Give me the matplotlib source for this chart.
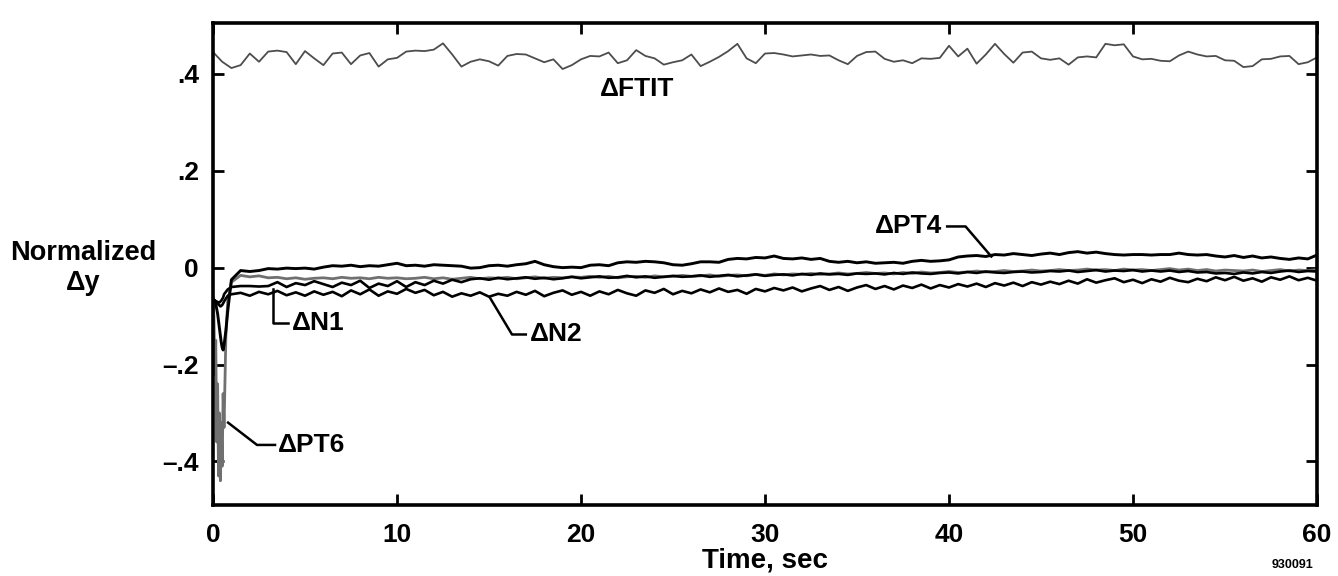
import numpy as np
import matplotlib
matplotlib.use("Agg")
import matplotlib.pyplot as plt

plt.rcParams['font.family'] = ['Liberation Sans', 'DejaVu Sans']
plt.rcParams['font.weight'] = 'bold'

# time bases
t_ftit = np.arange(0.0, 60.01, 0.5)
t_start = [0.0, 0.05, 0.1, 0.15, 0.2, 0.25, 0.3, 0.35, 0.4, 0.45, 0.5, 0.55, 0.6, 0.7, 0.8]
t_main = np.arange(1.0, 60.01, 0.5)

# FTIT, one value every 0.5 s
ftit = [
    0.445, 0.425, 0.412, 0.418, 0.442, 0.425, 0.446, 0.448, 0.445, 0.420,
    0.447, 0.432, 0.418, 0.442, 0.444, 0.420, 0.438, 0.443, 0.415, 0.430,
    0.433, 0.446, 0.448, 0.447, 0.450, 0.463, 0.440, 0.415, 0.425, 0.430,
    0.426, 0.417, 0.437, 0.441, 0.440, 0.432, 0.424, 0.430, 0.410, 0.418,
    0.430, 0.437, 0.436, 0.444, 0.422, 0.428, 0.449, 0.437, 0.432, 0.419,
    0.424, 0.428, 0.440, 0.416, 0.425, 0.435, 0.447, 0.462, 0.432, 0.422,
    0.442, 0.443, 0.440, 0.436, 0.438, 0.440, 0.437, 0.438, 0.428, 0.420,
    0.437, 0.445, 0.446, 0.431, 0.425, 0.428, 0.422, 0.432, 0.431, 0.433,
    0.458, 0.436, 0.452, 0.421, 0.440, 0.462, 0.441, 0.423, 0.444, 0.446,
    0.432, 0.429, 0.432, 0.419, 0.434, 0.436, 0.434, 0.462, 0.459, 0.461,
    0.436, 0.430, 0.431, 0.427, 0.426, 0.438, 0.446, 0.440, 0.436, 0.437,
    0.428, 0.427, 0.414, 0.416, 0.430, 0.431, 0.436, 0.437, 0.420, 0.424,
    0.434,
]

# engine signals: first 0.8 s sampled finer, then every 0.5 s from 1.0 s
pt4_start = [-0.065, -0.066, -0.07, -0.075, -0.085, -0.095, -0.11, -0.125,
             -0.14, -0.155, -0.165, -0.17, -0.16, -0.13, -0.09]
pt4_main = [
    -0.025, -0.006, -0.008, -0.006, -0.002, -0.003, -0.001, -0.002, -0.001, -0.003,
    0.001, 0.004, 0.003, 0.005, 0.002, 0.004, 0.003, 0.006, 0.009, 0.004,
    0.005, 0.003, 0.006, 0.005, 0.004, 0.003, -0.001, 0.000, 0.004, 0.005,
    0.003, 0.006, 0.008, 0.013, 0.006, 0.002, 0.000, 0.001, 0.000, 0.005,
    0.006, 0.004, 0.010, 0.012, 0.011, 0.013, 0.012, 0.010, 0.006, 0.005,
    0.008, 0.012, 0.012, 0.011, 0.017, 0.019, 0.018, 0.021, 0.020, 0.024,
    0.019, 0.018, 0.020, 0.017, 0.019, 0.013, 0.011, 0.013, 0.010, 0.012,
    0.009, 0.010, 0.011, 0.009, 0.013, 0.015, 0.013, 0.014, 0.016, 0.022,
    0.024, 0.025, 0.023, 0.027, 0.026, 0.029, 0.027, 0.025, 0.028, 0.030,
    0.027, 0.031, 0.033, 0.030, 0.032, 0.029, 0.027, 0.026, 0.027, 0.027,
    0.026, 0.027, 0.027, 0.030, 0.027, 0.026, 0.027, 0.024, 0.022, 0.025,
    0.021, 0.024, 0.020, 0.022, 0.019, 0.017, 0.020, 0.018, 0.026,
]

n1_start = [-0.065, -0.066, -0.068, -0.069, -0.07, -0.071, -0.072, -0.072,
            -0.07, -0.068, -0.065, -0.062, -0.055, -0.05, -0.045]
n1_main = [
    -0.040, -0.038, -0.038, -0.039, -0.038, -0.030, -0.040, -0.032, -0.036, -0.028,
    -0.034, -0.040, -0.031, -0.036, -0.027, -0.042, -0.033, -0.038, -0.028, -0.040,
    -0.030, -0.036, -0.027, -0.033, -0.025, -0.030, -0.024, -0.022, -0.025, -0.021,
    -0.024, -0.022, -0.020, -0.023, -0.021, -0.024, -0.022, -0.019, -0.022, -0.020,
    -0.018, -0.021, -0.020, -0.017, -0.020, -0.018, -0.021, -0.019, -0.017, -0.019,
    -0.018, -0.016, -0.019, -0.017, -0.015, -0.018, -0.016, -0.014, -0.017, -0.015,
    -0.014, -0.016, -0.013, -0.015, -0.012, -0.014, -0.013, -0.015, -0.012, -0.013,
    -0.012, -0.014, -0.011, -0.013, -0.010, -0.012, -0.013, -0.011, -0.010, -0.012,
    -0.009, -0.011, -0.008, -0.010, -0.011, -0.009, -0.008, -0.010, -0.009, -0.007,
    -0.008, -0.006, -0.009, -0.007, -0.005, -0.008, -0.006, -0.007, -0.005, -0.008,
    -0.006, -0.008, -0.006, -0.009, -0.007, -0.010, -0.009, -0.012, -0.011, -0.013,
    -0.010, -0.012, -0.009, -0.011, -0.008, -0.006, -0.009, -0.007, -0.008,
]

pt6_start = [-0.06, -0.10, -0.22, -0.15, -0.36, -0.24, -0.43, -0.30,
             -0.44, -0.32, -0.41, -0.26, -0.33, -0.14, -0.07]
pt6_main = [
    -0.030, -0.016, -0.019, -0.017, -0.021, -0.020, -0.023, -0.021, -0.024, -0.022,
    -0.021, -0.023, -0.020, -0.022, -0.021, -0.023, -0.020, -0.022, -0.021, -0.023,
    -0.022, -0.020, -0.023, -0.021, -0.024, -0.022, -0.020, -0.023, -0.021, -0.022,
    -0.020, -0.023, -0.021, -0.019, -0.022, -0.020, -0.021, -0.019, -0.020, -0.018,
    -0.020, -0.018, -0.021, -0.019, -0.018, -0.020, -0.017, -0.019, -0.018, -0.016,
    -0.018, -0.017, -0.015, -0.018, -0.016, -0.015, -0.017, -0.014, -0.016, -0.013,
    -0.015, -0.013, -0.014, -0.012, -0.014, -0.013, -0.011, -0.013, -0.012, -0.010,
    -0.012, -0.011, -0.013, -0.010, -0.012, -0.009, -0.011, -0.010, -0.008, -0.010,
    -0.009, -0.007, -0.009, -0.008, -0.006, -0.008, -0.007, -0.005, -0.007, -0.006,
    -0.004, -0.006, -0.005, -0.003, -0.005, -0.004, -0.006, -0.003, -0.005, -0.004,
    -0.006, -0.004, -0.002, -0.005, -0.003, -0.006, -0.004, -0.007, -0.005, -0.006,
    -0.007, -0.005, -0.008, -0.006, -0.004, -0.007, -0.005, -0.006, -0.004,
]

n2_start = [-0.065, -0.066, -0.068, -0.07, -0.072, -0.074, -0.076, -0.078,
            -0.08, -0.079, -0.077, -0.074, -0.07, -0.064, -0.058]
n2_main = [
    -0.055, -0.052, -0.058, -0.050, -0.055, -0.048, -0.057, -0.051, -0.058, -0.049,
    -0.056, -0.050, -0.059, -0.047, -0.055, -0.045, -0.058, -0.049, -0.054, -0.044,
    -0.052, -0.046, -0.057, -0.050, -0.060, -0.053, -0.058, -0.051, -0.060, -0.054,
    -0.058, -0.050, -0.056, -0.048, -0.059, -0.052, -0.047, -0.056, -0.050, -0.058,
    -0.049, -0.055, -0.046, -0.053, -0.058, -0.047, -0.052, -0.044, -0.055, -0.048,
    -0.053, -0.045, -0.051, -0.043, -0.050, -0.046, -0.054, -0.044, -0.049, -0.042,
    -0.047, -0.041, -0.049, -0.043, -0.038, -0.046, -0.040, -0.048, -0.041, -0.036,
    -0.044, -0.038, -0.045, -0.037, -0.042, -0.035, -0.043, -0.036, -0.041, -0.034,
    -0.039, -0.033, -0.040, -0.032, -0.037, -0.031, -0.038, -0.030, -0.035, -0.029,
    -0.034, -0.027, -0.033, -0.024, -0.031, -0.026, -0.022, -0.030, -0.025, -0.032,
    -0.024, -0.029, -0.021, -0.027, -0.030, -0.023, -0.028, -0.020, -0.026, -0.019,
    -0.027, -0.022, -0.029, -0.020, -0.025, -0.018, -0.026, -0.021, -0.027,
]

x_ticks = [0, 10, 20, 30, 40, 50, 60]
y_ticks = [-0.4, -0.2, 0.0, 0.2, 0.4]
y_tick_labels = ['\u2013.4', '\u2013.2', '0', '.2', '.4']

# label text, text anchor (t, y), alignment, leader polyline (t list, y list)
labels = [
    ('\u0394FTIT', (21.0, 0.368), 'left', None),
    ('\u0394PT4', (39.6, 0.085), 'right', ([39.9, 40.9, 42.3], [0.085, 0.085, 0.023])),
    ('\u0394N1', (4.3, -0.115), 'left', ([4.08, 3.26, 3.26], [-0.115, -0.115, -0.045])),
    ('\u0394N2', (17.2, -0.138), 'left', ([17.0, 16.25, 15.05], [-0.138, -0.138, -0.062])),
    ('\u0394PT6', (3.5, -0.366), 'left', ([3.37, 2.39, 0.82], [-0.366, -0.366, -0.32])),
]

t_eng = np.concatenate([t_start, t_main])
pt4 = np.concatenate([pt4_start, pt4_main])
n1 = np.concatenate([n1_start, n1_main])
pt6 = np.concatenate([pt6_start, pt6_main])
n2 = np.concatenate([n2_start, n2_main])

fig = plt.figure(figsize=(13.38, 5.76), dpi=100)
ax = fig.add_axes([213 / 1338, 1 - 505 / 576, 1104 / 1338, 482 / 576])

ax.plot(t_ftit, ftit, color='#4d4d4d', lw=1.3)
ax.plot(t_eng, pt6, color='#707070', lw=2.0)
ax.plot(t_eng, n2, color='black', lw=1.9)
ax.plot(t_eng, n1, color='black', lw=1.9)
ax.plot(t_eng, pt4, color='black', lw=2.1)

for text, (tx, ty), ha, leader in labels:
    ax.text(tx, ty, text, ha=ha, va='center', fontsize=19, fontweight='bold')
    if leader is not None:
        ax.plot(leader[0], leader[1], color='black', lw=1.8)

ax.set_xlim(0, 60)
ax.set_ylim(-0.49, 0.505)
ax.set_xticks(x_ticks)
ax.set_yticks(y_ticks)
ax.set_yticklabels(y_tick_labels)
ax.tick_params(direction='in', length=8, width=2, top=True, right=True,
               labelsize=19)
ax.tick_params(axis='x', pad=13)
ax.tick_params(axis='y', pad=10)
for lbl in ax.get_xticklabels() + ax.get_yticklabels():
    lbl.set_fontweight('bold')
for sp in ax.spines.values():
    sp.set_linewidth(2.6)

ax.set_xlabel('Time, sec', fontsize=20, fontweight='bold', labelpad=0)
fig.text(83 / 1338, 1 - 268 / 576, 'Normalized\n\u0394y', ha='center', va='center',
         fontsize=19.5, fontweight='bold', linespacing=1.15)
fig.text(1292 / 1338, 1 - 565 / 576, '930091', ha='center', va='center',
         fontsize=9, fontweight='bold')

fig.savefig('out.png', dpi=100)
